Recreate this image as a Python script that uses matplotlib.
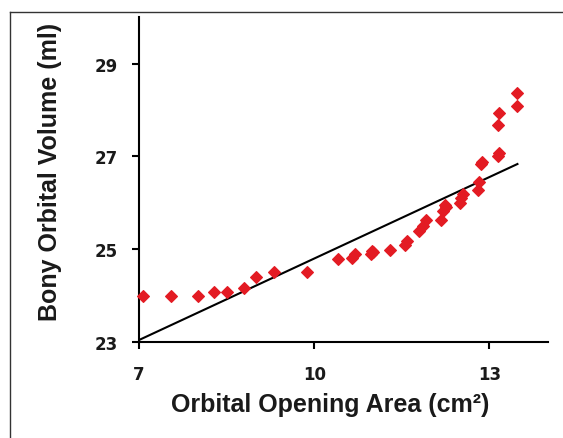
import numpy as np
import matplotlib
matplotlib.use("Agg")
import matplotlib.pyplot as plt
from matplotlib.lines import Line2D

# ----------------------------------------------------------
# DATA
# ----------------------------------------------------------
opening_area = [7.06, 7.54, 8.01, 8.28, 8.51, 8.79, 9.01, 9.31, 9.87,
                10.41, 10.65, 10.69, 10.98, 10.99, 11.00, 11.29, 11.55, 11.59,
                11.80, 11.86, 11.92, 12.17, 12.21, 12.24, 12.26, 12.49, 12.52,
                12.55, 12.80, 12.83, 12.86, 12.88, 13.14, 13.16, 13.14, 13.16,
                13.47, 13.47]
orbital_volume = [24.00, 24.00, 24.00, 24.08, 24.08, 24.17, 24.40, 24.50, 24.50,
                  24.78, 24.81, 24.90, 24.89, 24.97, 24.93, 24.99, 25.10, 25.17,
                  25.39, 25.50, 25.64, 25.64, 25.82, 25.96, 25.90, 26.00, 26.10,
                  26.20, 26.28, 26.46, 26.83, 26.89, 27.00, 27.08, 27.68, 27.93,
                  28.08, 28.36]

# trend line (slope / intercept)
fit_slope = 0.586
fit_intercept = 23.04 - 0.586 * 7
fit_x = [7.0, 13.48]

x_ticks = [7, 10, 13]
y_ticks = [23, 25, 27, 29]

# ----------------------------------------------------------
# PLOT
# ----------------------------------------------------------
fig = plt.figure(figsize=(5.63, 4.39), dpi=100)
ax = fig.add_axes([0.247, 0.219, 0.726, 0.739])

fx = np.array(fit_x)
ax.plot(fx, fit_slope * fx + fit_intercept, color="black", lw=1.5, zorder=2)
ax.plot(opening_area, orbital_volume, "D", color="#e31b23", ms=6.4,
        mec="#e31b23", mew=0.8, zorder=3, clip_on=False)

ax.set_xlim(7, 14)
ax.set_ylim(23, 30)
ax.set_xticks(x_ticks)
ax.set_yticks(y_ticks)

for side in ["top", "right"]:
    ax.spines[side].set_visible(False)
for side in ["left", "bottom"]:
    ax.spines[side].set_linewidth(1.5)

ax.tick_params(axis="both", direction="out", length=5, width=1.5, colors="black")
ax.tick_params(axis="x", pad=12)
ax.tick_params(axis="y", pad=10)
for lab in ax.get_xticklabels() + ax.get_yticklabels():
    lab.set_fontfamily("DejaVu Sans")
    lab.set_fontweight("bold")
    lab.set_fontsize(12)
    lab.set_color("#1a1a1a")

ax.set_xlabel("Orbital Opening Area (cm²)", fontsize=18, fontweight="bold",
              family="Liberation Sans", color="#1a1a1a")
ax.set_ylabel("Bony Orbital Volume (ml)", fontsize=18, fontweight="bold",
              family="Liberation Sans", color="#1a1a1a")
ax.xaxis.label.set_va("baseline")
ax.xaxis.set_label_coords(0.468, -0.214)
ax.yaxis.label.set_va("baseline")
ax.yaxis.set_label_coords(-0.200, 0.526)

# outer frame of the figure panel (left and top edges are visible)
fig.add_artist(Line2D([9.5 / 563, 9.5 / 563], [0, 1 - 13 / 439],
                      transform=fig.transFigure, color="#333333", lw=1.0))
fig.add_artist(Line2D([9.5 / 563, 1], [1 - 13 / 439, 1 - 13 / 439],
                      transform=fig.transFigure, color="#333333", lw=1.0))

fig.savefig("out.png", dpi=100)
